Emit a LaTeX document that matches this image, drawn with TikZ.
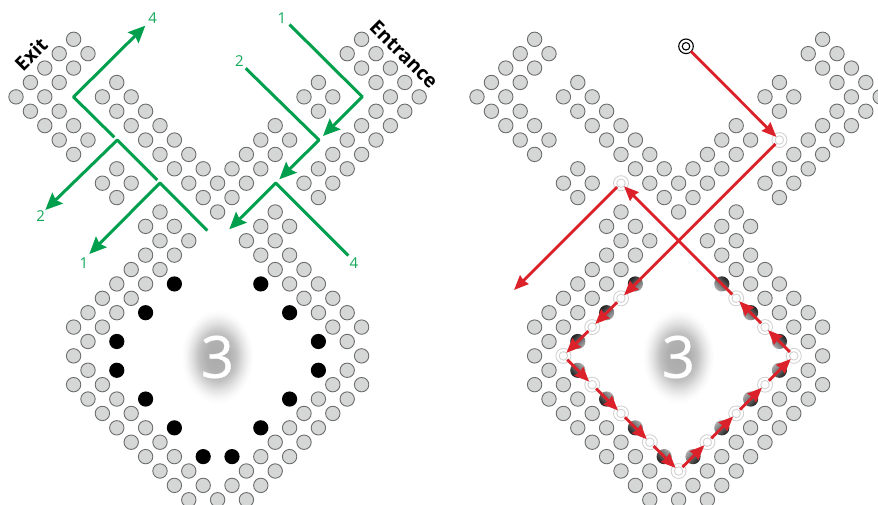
\documentclass[tikz,border=0pt]{standalone}
\usepackage{fontspec}
\setmainfont{Open Sans}
\newfontfamily\threefont[FakeBold=0.7]{Open Sans}
\usetikzlibrary{arrows.meta}
\definecolor{pegfill}{HTML}{D5D7D6}
\definecolor{pegline}{HTML}{6C6C6C}
\definecolor{grn}{HTML}{009F4D}
\definecolor{grntext}{HTML}{12A85A}
\definecolor{rd}{HTML}{DB2129}
\definecolor{ringc}{HTML}{D2D2D2}
\pgfdeclareradialshading{glow}{\pgfpoint{0bp}{0bp}}{%
 color(0bp)=(black!33); color(8bp)=(black!31); color(13bp)=(black!24); color(18bp)=(black!11); color(22bp)=(black!3); color(25bp)=(white); color(50bp)=(white)}
\tikzset{
 peg/.style={fill=pegfill,draw=pegline,line width=0.9pt},
 blackpeg/.style={fill=black},
 ringnode/.style={circle,draw=ringc,fill=white,line width=0.9pt,minimum size=8.5pt,inner sep=0pt,outer sep=0pt},
 ringouter/.style={draw=ringc,fill=white,line width=0.9pt},
 startnode/.style={circle,draw=black,fill=white,line width=1.1pt,minimum size=7.5pt,inner sep=0pt,outer sep=2pt},
 grnline/.style={draw=grn,line width=3pt,line cap=round,line join=miter},
 grnarrow/.style={grnline,-{Stealth[length=17pt,width=15pt,inset=2.5pt]}},
 redarrow/.style={draw=rd,line width=2.8pt,shorten <=1.2pt,-{Stealth[length=14.5pt,width=12pt,inset=1pt]}},
 numlabel/.style={text=grntext,font=\fontsize{15}{15}\selectfont,inner sep=0pt},
 wordlabel/.style={text=black,font=\fontsize{19.5}{19.5}\selectfont\bfseries,inner sep=0pt},
 bignum/.style={text=white,font=\threefont\fontsize{58}{58}\selectfont,inner sep=0pt},
}
\newcommand{\pegrows}{0/{-10,10},1/{-11,-9,9,11},2/{-12,-10,10,12},
 3/{-13,-11,-7,7,11,13},4/{-14,-12,-8,-6,6,8,12,14},5/{-13,-11,-7,-5,7,11,13},
 6/{-12,-10,-6,-4,4,10,12},7/{-11,-9,-5,-3,3,5,9,11},8/{-10,-4,-2,2,4,8,10},
 9/{-7,-3,-1,1,3,7,9},10/{-8,-6,-2,0,2,6,8},11/{-7,-1,1,7},12/{-4,0,4},
 13/{-5,-3,3,5},14/{-4,-2,2,4},15/{-5,-3,3,5},16/{-6,-4,4,6},17/{-7,-5,5,7},
 18/{-8,-6,6,8},19/{-9,-7,7,9},20/{-10,-8,8,10},21/{-9,9},22/{-10,10},23/{-9,9},
 24/{-10,-8,8,10},25/{-9,-7,7,9},26/{-8,-6,6,8},27/{-7,-5,5,7},28/{-6,-4,4,6},
 29/{-5,-3,3,5},30/{-4,-2,2,4},31/{-3,-1,1,3},32/{-2,0,2}}
\newcommand{\blackpos}{-3/17,3/17,-5/19,5/19,-7/21,7/21,-7/23,7/23,-5/25,5/25,-3/27,3/27,-1/29,1/29}
\begin{document}
\begin{tikzpicture}[x=1pt,y=-1pt]
\useasboundingbox (0,0) rectangle (878,505);
% ---------- glows and numerals
\foreach \cx/\nm in {217.4/a,678.4/b}{
 \shade[shading=glow] (\cx,356.5) ellipse (36 and 47);
 \node[bignum] (three\nm) at (\cx,357) {3};
}
% ---------- left figure
\begin{scope}[shift={(217.6,39.3)},x=14.4pt,y=-14.39pt]
 \foreach \j/\cs in \pegrows { \foreach \c in \cs { \path[peg] (\c,\j) circle[radius=7.2pt]; } }
 \foreach \c/\j in \blackpos { \path[blackpeg] (\c,\j) circle[radius=7.6pt]; }
\end{scope}
% ---------- right figure
\begin{scope}[shift={(678.6,39.3)},x=14.4pt,y=-14.39pt]
 \foreach \j/\cs in \pegrows { \foreach \c in \cs { \path[peg] (\c,\j) circle[radius=7.2pt]; } }
 \foreach \c/\j/\a in {-3/17/45,3/17/-45,-5/19/45,5/19/-45,-7/21/45,7/21/-45,-7/23/135,7/23/-135,-5/25/135,5/25/-135,-3/27/135,3/27/-135,-1/29/135,1/29/-135}{
  \shade[top color=black!88,middle color=black!80,bottom color=black!32,shading angle=\a] (\c,\j) circle[radius=7.6pt];
 }
 \foreach \n/\c/\j in {ra/7/7,rb/-4/18,rc/-6/20,rd/-8/22,re/-6/24,rf/-4/26,rg/-2/28,rh/0/30,ri/2/28,rj/4/26,rk/6/24,rl/8/22,rm/6/20,rn/4/18,ro/-4/10}{
  \path[ringouter] (\c,\j) circle[radius=7.5pt];
  \node[ringnode] (\n) at (\c,\j) {};
 }
\end{scope}
% start marker and free end of the red path
\path[draw=black,line width=1.1pt,fill=white] (686,46.3) circle[radius=7.3pt];
\node[startnode] (st) at (686,46.3) {};
\coordinate (redend) at (514,290);
\foreach \a/\b in {st/ra,ra/rb,rb/rc,rc/rd,rd/re,re/rf,rf/rg,rg/rh,rh/ri,ri/rj,rj/rk,rk/rl,rl/rm,rm/rn,rn/ro,ro/redend}{
 \draw[redarrow] (\a) -- (\b);
}
% ---------- green paths
\coordinate (g1s) at (289.5,24.5);
\coordinate (g1c) at (362.3,96.8);
\coordinate (g1e) at (323,136);
\coordinate (g2s) at (245.7,68.3);
\coordinate (g2c) at (319,140);
\coordinate (g2e) at (279.3,179.3);
\coordinate (g4s) at (348.3,255.5);
\coordinate (g4c) at (275.7,183);
\coordinate (g4e) at (229.3,229.3);
\coordinate (x4c) at (73.5,97);
\coordinate (x4e) at (145.3,25.7);
\coordinate (x4s) at (114.3,137.3);
\coordinate (x2c) at (117.3,140);
\coordinate (x2e) at (45.3,210);
\coordinate (x2s) at (157.3,180);
\coordinate (x1c) at (160,183);
\coordinate (x1e) at (89.3,254);
\coordinate (x1s) at (207.3,230.5);
\draw[grnline,line cap=butt] (g1c) -- (g1s);
\draw[grnarrow] (g1c) -- (g1e);
\draw[grnline,line cap=butt] (g2c) -- (g2s);
\draw[grnarrow] (g2c) -- (g2e);
\draw[grnline,line cap=butt] (g4c) -- (g4s);
\draw[grnarrow] (g4c) -- (g4e);
\draw[grnline,line cap=butt] (x4c) -- (x4s);
\draw[grnarrow] (x4c) -- (x4e);
\draw[grnline,line cap=butt] (x2c) -- (x2s);
\draw[grnarrow] (x2c) -- (x2e);
\draw[grnline,line cap=butt] (x1c) -- (x1s);
\draw[grnarrow] (x1c) -- (x1e);
% ---------- labels
\node[numlabel] (l1a) at (282,18.3) {1};
\node[numlabel] (l2a) at (239.5,61) {2};
\node[numlabel] (l4a) at (152.7,17.7) {4};
\node[numlabel] (l2b) at (40.7,216) {2};
\node[numlabel] (l1b) at (84,263) {1};
\node[numlabel] (l4b) at (354,263) {4};
\node[wordlabel,rotate=45] (exit) at (31,54.5) {Exit};
\node[wordlabel,rotate=-45] (entr) at (404,54.5) {Entrance};
\end{tikzpicture}
\end{document}
